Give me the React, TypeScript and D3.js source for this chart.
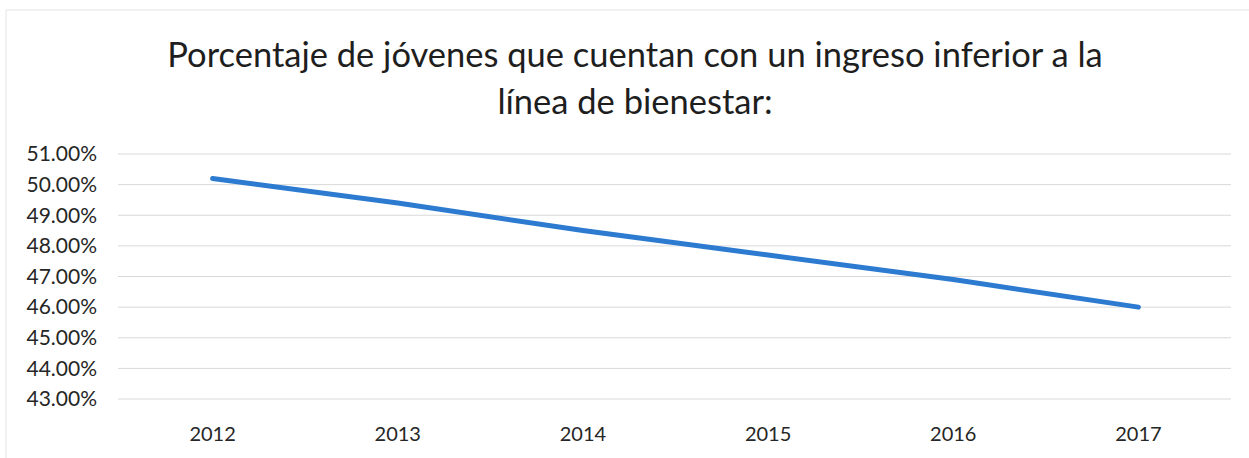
import { useEffect, useRef } from 'react';
import * as d3 from 'd3';

const YEARS = ['2012', '2013', '2014', '2015', '2016', '2017'];
const VALUES = [50.2, 49.4, 48.5, 47.7, 46.9, 46.0];
const Y_TICKS = [43, 44, 45, 46, 47, 48, 49, 50, 51];
const TITLE_LINES = [
  'Porcentaje de jóvenes que cuentan con un ingreso inferior a la',
  'línea de bienestar:',
];

const W = 1249;
const H = 458;
const FONT = 'Lato, "Open Sans", sans-serif';

export default function App() {
  const svgRef = useRef<SVGSVGElement>(null);

  useEffect(() => {
    if (!svgRef.current) return;
    const svg = d3.select(svgRef.current);
    svg.selectAll('*').remove();

    const left = 120;
    const right = 1231;

    const x = d3.scaleBand().domain(YEARS).range([left, right]);
    const y = d3.scaleLinear().domain([43, 51]).range([399, 154]);

    // chart frame (only top/left edges visible in the scan)
    svg.append('path')
      .attr('d', `M6,${H} L6,10 L${W},10`)
      .attr('fill', 'none')
      .attr('stroke', '#e4e4e4')
      .attr('stroke-width', 1);

    // title
    const title = svg.append('text')
      .attr('text-anchor', 'middle')
      .attr('font-family', FONT)
      .attr('font-size', 34.5)
      .attr('fill', '#1e1e1e');
    TITLE_LINES.forEach((t, i) => {
      title.append('tspan').attr('x', 635).attr('y', 67 + i * 47).text(t);
    });

    // grid lines
    svg.append('g').selectAll('line')
      .data(Y_TICKS)
      .join('line')
      .attr('x1', left - 2)
      .attr('x2', right)
      .attr('y1', d => y(d))
      .attr('y2', d => y(d))
      .attr('stroke', '#d9d9d9')
      .attr('stroke-width', 1);

    // y labels
    svg.append('g').selectAll('text')
      .data(Y_TICKS)
      .join('text')
      .attr('x', 97)
      .attr('y', d => y(d))
      .attr('dy', '0.35em')
      .attr('text-anchor', 'end')
      .attr('font-family', FONT)
      .attr('font-size', 21)
      .attr('fill', '#262626')
      .text(d => `${d.toFixed(2)}%`);

    // x labels
    svg.append('g').selectAll('text')
      .data(YEARS)
      .join('text')
      .attr('x', d => (x(d) ?? 0) + x.bandwidth() / 2)
      .attr('y', 434)
      .attr('dy', '0.35em')
      .attr('text-anchor', 'middle')
      .attr('font-family', FONT)
      .attr('font-size', 20)
      .attr('fill', '#262626')
      .text(d => d);

    // line
    const line = d3.line<number>()
      .x((_, i) => (x(YEARS[i]) ?? 0) + x.bandwidth() / 2)
      .y(d => y(d));

    svg.append('path')
      .datum(VALUES)
      .attr('d', line)
      .attr('fill', 'none')
      .attr('stroke', '#2c7bd0')
      .attr('stroke-width', 5)
      .attr('stroke-linecap', 'round')
      .attr('stroke-linejoin', 'round');
  }, []);

  return (
    <svg
      ref={svgRef}
      width={W}
      height={H}
      style={{ position: 'absolute', left: 0, top: 0, background: '#fff' }}
    />
  );
}
